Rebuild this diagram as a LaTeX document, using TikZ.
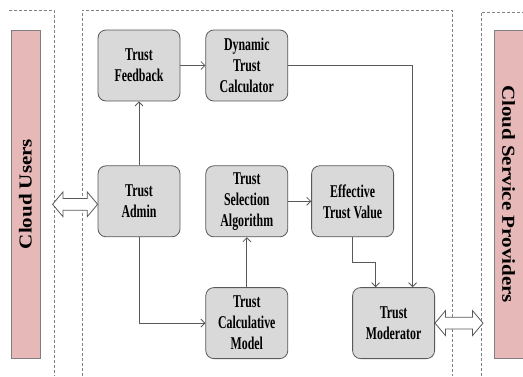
\documentclass[tikz,border=0pt]{standalone}
\usepackage{fontspec}
\setmainfont{Liberation Serif}
\newfontfamily\boxfont[FakeStretch=0.66]{Liberation Serif}
\usepackage{xcolor}
\usepackage{tikz}
\usetikzlibrary{positioning, arrows.meta, shapes.arrows, calc}

\definecolor{boxgray}{HTML}{D9D9D9}
\definecolor{boxline}{HTML}{595959}
\definecolor{barpink}{HTML}{E6B9B8}
\definecolor{barline}{HTML}{7F7F7F}

\begin{document}
\begin{tikzpicture}[x=1pt, y=-1pt, node distance=25pt,
    block/.style={draw=boxline, fill=boxgray, line width=0.8pt, rounded corners=8pt,
        minimum width=82pt, minimum height=71pt, inner sep=2pt, align=center,
        font=\boxfont\bfseries\fontsize{18}{21}\selectfont},
    bar/.style={draw=barline, fill=barpink, line width=0.6pt, minimum width=328pt,
        minimum height=29pt, inner sep=0pt, font=\bfseries\fontsize{21}{24}\selectfont},
    region/.style={draw=gray, line width=0.6pt, dash pattern=on 3pt off 2pt},
    line/.style={draw=boxline, line width=0.8pt, -{Straight Barb[length=4pt,width=8pt]}},
    fatarrow/.style={double arrow, draw=boxline, fill=white, line width=0.8pt,
        inner xsep=0pt, inner ysep=5.5pt, double arrow head extend=6.5pt,
        double arrow tip angle=100}]

    \useasboundingbox (0,0) rectangle (523,376);

    \draw[region] (9,10) -- (54,10) -- (54,376);
    \draw[region] (82,376) -- (82,10) -- (452,10) -- (452,376);
    \draw[region] (481,376) -- (481,12) -- (523,12);

    \node[bar, rotate=90] (users) at (25.5,194) {\scalebox{1}[0.87]{Cloud Users}};

    \node[bar, rotate=-90] (providers) at (508.5,194) {\scalebox{1}[0.87]{Cloud Service Providers}};

    \node[block] (feedback) at (139,65.5) {Trust\\Feedback};

    \node[block] (calculator) [right=of feedback] {Dynamic\\Trust\\Calculator};

    \node[block] (admin) [below=64pt of feedback] {Trust\\Admin};

    \node[block] (selection) [right=of admin] {Trust\\Selection\\Algorithm};

    \node[block] (effective) [right=23pt of selection] {Effective\\Trust Value};

    \node[block] (model) [below=50pt of selection] {Trust\\Calculative\\Model};

    \node[block] (moderator) [right=64pt of model] {Trust\\Moderator};

    \draw[line] (admin) -- (feedback);

    \draw[line] (feedback) -- (calculator);

    \draw[line] (calculator.east) -| ([xshift=19pt]moderator.north);

    \draw[line] (admin.south) |- (model.west);

    \draw[line] (model) -- (selection);

    \draw[line] (selection) -- (effective);

    \draw[line] (effective.south) -- ++(0,25) -| ([xshift=-18pt]moderator.north);

    \node[fatarrow, minimum height=45pt] (userlink) at ($(admin.west)+(-22.5,3)$) {};

    \node[fatarrow, minimum height=48pt] (providerlink) at ($(moderator.east)+(24,0)$) {};

\end{tikzpicture}
\end{document}
